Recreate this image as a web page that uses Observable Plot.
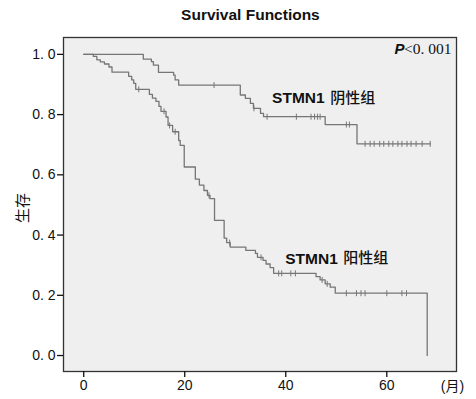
<!DOCTYPE html>
<html><head><meta charset="utf-8">
<script src="https://cdn.jsdelivr.net/npm/d3@7"></script>
<script src="https://cdn.jsdelivr.net/npm/@observablehq/plot@0.6"></script>
<style>body{margin:0;background:#fff}</style>
</head><body><div id="chart"></div>
<script>
// STMN1 negative group (step events)
const negTimes = [0, 11.8, 13.4, 13.8, 14.8, 17.8, 18.1, 18.8, 31.0, 32.0, 33.0, 33.6, 35.0, 35.6, 47.8, 54.1, 68.6];
const negSurv  = [1.0, 0.984, 0.976, 0.964, 0.940, 0.931, 0.915, 0.898, 0.865, 0.854, 0.837, 0.821, 0.804, 0.793, 0.767, 0.703, 0.703];
const negCensor = [25.8, 33.7, 36.3, 42.1, 45.0, 45.7, 46.3, 46.8, 52.0, 52.6, 55.7, 56.7, 57.5, 58.6, 59.4, 60.4, 61.2, 62.2, 63.0, 64.0, 64.8, 65.8, 67.0, 68.6];
// STMN1 positive group (step events)
const posTimes = [0, 1.9, 2.6, 3.3, 4.1, 5.0, 5.6, 8.9, 9.5, 9.9, 10.3, 13.0, 13.6, 14.3, 14.9, 15.3, 16.3, 16.7, 17.6, 18.8, 19.1, 19.9, 22.1, 22.9, 23.8, 24.5, 25.0, 25.9, 27.8, 28.3, 29.0, 32.1, 34.0, 34.4, 35.5, 36.1, 36.9, 37.6, 46.0, 46.8, 47.8, 48.8, 49.8, 68.0];
const posSurv  = [1.0, 0.993, 0.982, 0.975, 0.968, 0.958, 0.941, 0.927, 0.915, 0.904, 0.884, 0.867, 0.855, 0.844, 0.827, 0.811, 0.792, 0.764, 0.743, 0.714, 0.698, 0.626, 0.586, 0.566, 0.548, 0.532, 0.521, 0.449, 0.390, 0.375, 0.360, 0.349, 0.339, 0.326, 0.316, 0.304, 0.292, 0.273, 0.262, 0.251, 0.238, 0.227, 0.207, 0.0];
const posCensor = [10.9, 15.9, 17.0, 18.1, 24.8, 28.9, 35.1, 38.6, 39.2, 41.0, 41.9, 47.2, 48.2, 52.0, 54.0, 54.9, 55.7, 60.0, 63.0, 63.9];

const yTicks = [0, 0.2, 0.4, 0.6, 0.8, 1.0];
const xTicks = [0, 20, 40, 60];
const geneName = "STMN1";
const groupNames = ["阴性组", "阳性组"];
const titleText = "Survival Functions";
const yLabel = "生存";
const xUnit = "(月)";

const survAt = (T, S, t) => S[Math.max(0, d3.bisectRight(T, t) - 1)];
const negLine = negTimes.map((t, i) => ({t, s: negSurv[i]}));
const posLine = posTimes.map((t, i) => ({t, s: posSurv[i]}));
const negC = negCensor.map(t => ({t, s: survAt(negTimes, negSurv, t)}));
const posC = posCensor.map(t => ({t, s: survAt(posTimes, posSurv, t)}));

const vtick = {draw(ctx, size) { const r = Math.sqrt(size / Math.PI); ctx.moveTo(0, -r); ctx.lineTo(0, r); }};
const font = "'Liberation Sans', Arial, 'Noto Sans CJK SC', sans-serif";
const cjk = "'Noto Sans CJK SC', sans-serif";
const lineColor = "#767676";
const ink = "#111";

const chart = Plot.plot({
  width: 476, height: 399,
  marginLeft: 63, marginRight: 20, marginTop: 37, marginBottom: 28,
  x: {domain: [-4, 73.8]},
  y: {domain: [-0.053, 1.056]},
  style: {fontFamily: font, fontSize: "14px", color: ink, background: "#fff"},
  marks: [
    Plot.frame({fill: "#efefef", stroke: null}),
    Plot.line(negLine, {x: "t", y: "s", curve: "step-after", stroke: lineColor, strokeWidth: 1.3}),
    Plot.line(posLine, {x: "t", y: "s", curve: "step-after", stroke: lineColor, strokeWidth: 1.3}),
    Plot.dot(negC, {x: "t", y: "s", symbol: vtick, r: 3, stroke: lineColor, strokeWidth: 1}),
    Plot.dot(posC, {x: "t", y: "s", symbol: vtick, r: 3, stroke: lineColor, strokeWidth: 1}),
    Plot.frame({stroke: "#333", strokeWidth: 1.3}),
    Plot.axisX({ticks: xTicks, tickSize: 6, tickPadding: 3, label: null, strokeWidth: 1.3}),
    Plot.axisY({ticks: yTicks, tickSize: 6, tickPadding: 2, label: null, strokeWidth: 1.3,
      tickFormat: d => d.toFixed(1).replace(".", ". ")}),
    Plot.text([geneName], {x: 37.3, y: 0.854, text: d => d, textAnchor: "start", fontSize: 15.5, fontWeight: "bold", fill: ink}),
    Plot.text([groupNames[0]], {x: 48.8, y: 0.854, text: d => d, textAnchor: "start", fontSize: 15, fontWeight: 500, fontFamily: cjk, fill: ink}),
    Plot.text([geneName], {x: 39.9, y: 0.322, text: d => d, textAnchor: "start", fontSize: 15.5, fontWeight: "bold", fill: ink}),
    Plot.text([groupNames[1]], {x: 51.4, y: 0.322, text: d => d, textAnchor: "start", fontSize: 15, fontWeight: 500, fontFamily: cjk, fill: ink}),
    Plot.text([titleText], {x: 33.0, y: 1.13, text: d => d, fontSize: 15.5, fontWeight: "bold", fill: ink}),
    Plot.text([yLabel], {x: -12, y: 0.49, text: d => d, rotate: -90, fontSize: 15, fontFamily: cjk, fill: ink}),
    Plot.text([xUnit], {x: 73, y: -0.103, text: d => d, fontSize: 14, fill: ink}),
    Plot.text(["P"], {x: 63.5, y: 1.017, text: d => d, textAnchor: "end", fontSize: 15, fontWeight: "bold", fontStyle: "italic", fill: ink}),
    Plot.text(["<0. 001"], {x: 63.4, y: 1.017, text: d => d, textAnchor: "start", fontSize: 15.5, fontFamily: "'Liberation Serif', 'Times New Roman', serif", fill: ink})
  ]
});
document.getElementById("chart").appendChild(chart);
</script>
</body></html>
